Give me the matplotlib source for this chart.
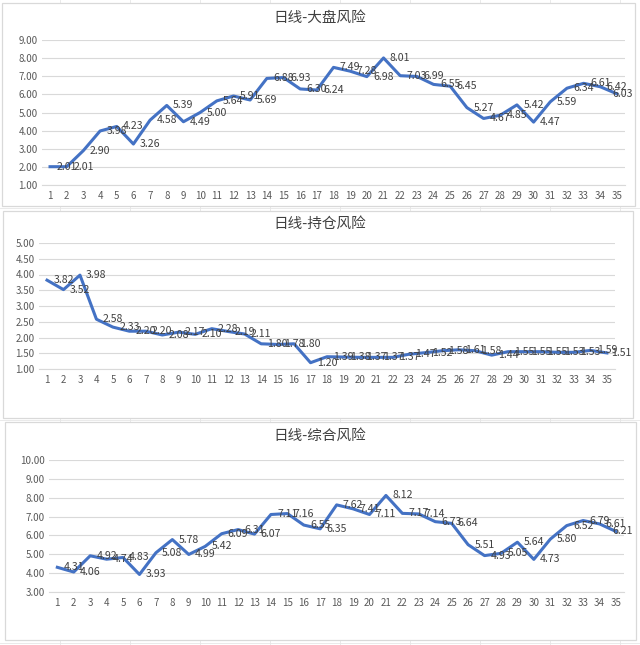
import numpy as np
import matplotlib
matplotlib.use('Agg')
import matplotlib.pyplot as plt
from matplotlib.patches import Rectangle
from matplotlib.lines import Line2D

plt.rcParams['font.family'] = ['Noto Sans CJK SC', 'DejaVu Sans']

days = list(range(1, 36))

# 日线-大盘风险
dapan = [2.01, 2.01, 2.90, 3.98, 4.23, 3.26, 4.58, 5.39, 4.49, 5.00,
         5.64, 5.91, 5.69, 6.88, 6.93, 6.30, 6.24, 7.49, 7.28, 6.98,
         8.01, 7.03, 6.99, 6.55, 6.45, 5.27, 4.67, 4.85, 5.42, 4.47,
         5.59, 6.34, 6.61, 6.42, 6.03]
# 日线-持仓风险
chicang = [3.82, 3.52, 3.98, 2.58, 2.33, 2.20, 2.20, 2.08, 2.17, 2.10,
           2.28, 2.19, 2.11, 1.80, 1.78, 1.80, 1.20, 1.39, 1.38, 1.37,
           1.37, 1.37, 1.47, 1.52, 1.58, 1.61, 1.58, 1.44, 1.55, 1.55,
           1.55, 1.53, 1.53, 1.59, 1.51]
# 日线-综合风险
zonghe = [4.31, 4.06, 4.92, 4.74, 4.83, 3.93, 5.08, 5.78, 4.99, 5.42,
          6.09, 6.31, 6.07, 7.11, 7.16, 6.55, 6.35, 7.62, 7.41, 7.11,
          8.12, 7.17, 7.14, 6.73, 6.64, 5.51, 4.93, 5.05, 5.64, 4.73,
          5.80, 6.52, 6.79, 6.61, 6.21]

W, H = 640, 645
fig = plt.figure(figsize=(W / 100, H / 100), dpi=100)
fig.patch.set_facecolor('white')

# faint spreadsheet cell lines behind the charts
for x in range(60, W, 70):
    fig.add_artist(Line2D([x / W, x / W], [0, 1], color='#e6e6e6', lw=0.6, zorder=-5))
for y in [208, 420, 643]:
    fig.add_artist(Line2D([0, 1], [1 - y / H, 1 - y / H], color='#e6e6e6', lw=0.6, zorder=-5))


def px_rect(x0, y0, x1, y1):
    return [x0 / W, 1 - y1 / H, (x1 - x0) / W, (y1 - y0) / H]


panels = [
    # title, data, ylim, ticks, box, plot area (left, top, right, bottom), title y, last label shift
    ('日线-大盘风险', dapan, (1, 9), np.arange(1, 10, 1.0),
     (2, 3, 635, 206), (41.7, 40, 625.3, 185), 18, 0.36),
    ('日线-持仓风险', chicang, (1, 5), np.arange(1, 5.01, 0.5),
     (3, 211, 633, 418), (38.8, 243, 615.2, 369), 224, 0.85),
    ('日线-综合风险', zonghe, (3, 10), np.arange(3, 10.01, 1.0),
     (5, 422, 636, 640), (49.1, 460, 624.2, 592), 436, 0.42),
]

for title, vals, ylim, yticks, box, area, ty, last_dx in panels:
    # chart frame
    b = px_rect(*box)
    fig.add_artist(Rectangle((b[0], b[1]), b[2], b[3], transform=fig.transFigure,
                             facecolor='white', edgecolor='#d9d9d9', lw=0.9, zorder=-1))
    ax = fig.add_axes(px_rect(*area))
    ax.set_facecolor('none')
    ax.plot(days, vals, color='#4472C4', lw=2.2, solid_joinstyle='round', zorder=3)
    # labels sit to the right of each point, the last one is pulled back inside the frame
    for d, v in zip(days, vals):
        dx = last_dx if d == days[-1] else 1.0
        ax.text(d + dx, v, f'{v:.2f}', ha='center', va='center', fontsize=7.6,
                color='#404040', zorder=4, clip_on=False)
    ax.set_xlim(0.5, 35.5)
    ax.set_ylim(*ylim)
    ax.set_xticks(days)
    ax.set_yticks(yticks)
    ax.set_yticklabels([f'{t:.2f}' for t in yticks])
    ax.grid(axis='y', color='#d9d9d9', lw=0.8)
    ax.set_axisbelow(True)
    for s in ['top', 'right', 'left']:
        ax.spines[s].set_visible(False)
    ax.spines['bottom'].set_color('#d9d9d9')
    ax.spines['bottom'].set_linewidth(0.8)
    ax.tick_params(axis='x', length=0, labelsize=7, labelcolor='#595959', pad=4)
    ax.tick_params(axis='y', length=0, labelsize=7, labelcolor='#595959', pad=3)
    fig.text(0.5, 1 - ty / H, title, ha='center', va='center', fontsize=10.5, color='#404040')

fig.savefig('out.png', dpi=100)
